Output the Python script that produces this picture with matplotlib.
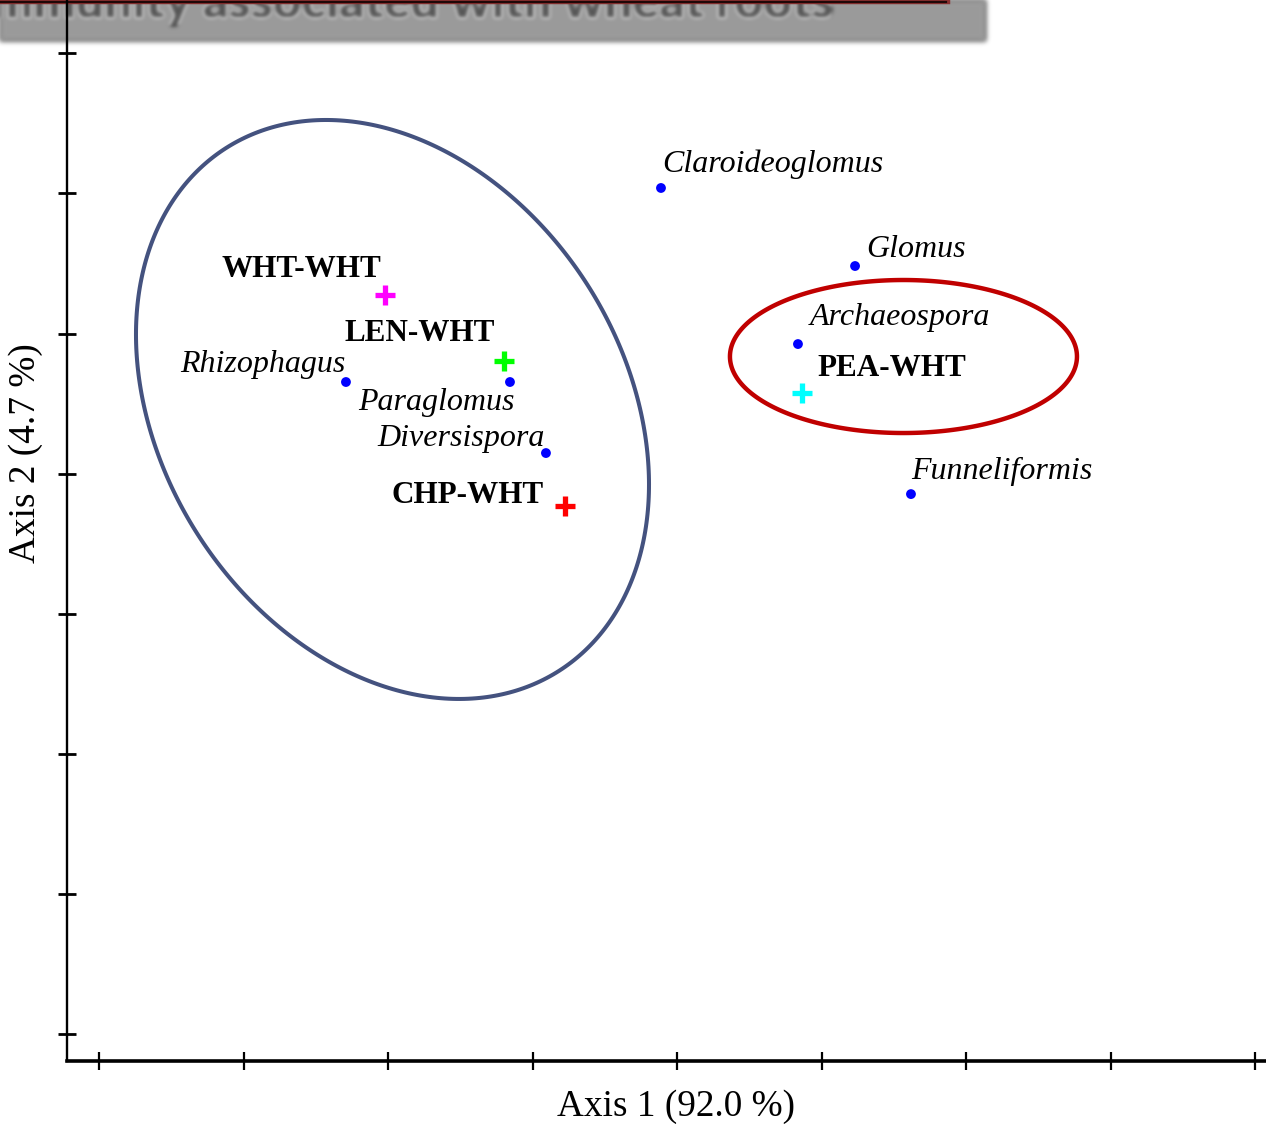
import numpy as np
import matplotlib
matplotlib.use("Agg")
import matplotlib.pyplot as plt
from matplotlib.patches import Rectangle, Polygon

# ---- data -----------------------------------------------------------------
genera = ["Claroideoglomus", "Glomus", "Archaeospora", "Funneliformis",
          "Rhizophagus", "Paraglomus", "Diversispora"]
genus_x = [3.889, 5.232, 4.837, 5.619, 1.709, 2.844, 3.093]
genus_y = [6.039, 5.482, 4.925, 3.854, 4.654, 4.654, 4.147]

treatments = ["WHT-WHT", "LEN-WHT", "CHP-WHT", "PEA-WHT"]
treat_x = [1.979, 2.803, 3.225, 4.865]
treat_y = [5.275, 4.804, 3.769, 4.575]
treat_colors = ["#ff00ff", "#00ff00", "#ff0000", "#00ffff"]

# grouping ellipses: centre and covariance (axis units)
group_center = [(2.031, 4.458), (5.567, 4.836)]
group_cov = [[[3.151, -0.951], [-0.951, 4.270]],
             [[1.4417, 0.0], [0.0, 0.2982]]]
group_colors = ["#44527f", "#c00000"]
group_lw = [2.9, 3.2]

x_ticks = list(range(0, 9))
y_ticks = list(range(0, 8))

xlabel = "Axis 1 (92.0 %)"
ylabel = "Axis 2 (4.7 %)"
banner_text = "community associated with wheat roots"

# label placement (pixel offsets from the point, alignment)
genus_label_pos = {
    "Claroideoglomus": (1, 24, "left"),
    "Glomus": (11, 17, "left"),
    "Archaeospora": (12, 27, "left"),
    "Funneliformis": (0, 23, "left"),
    "Rhizophagus": (0, 18, "right"),
    "Paraglomus": (5, -20, "right"),
    "Diversispora": (-1, 15, "right"),
}
treat_label_pos = {
    "WHT-WHT": (-4, 26, "right"),
    "LEN-WHT": (-9, 27, "right"),
    "CHP-WHT": (-21, 10, "right"),
    "PEA-WHT": (15, 25, "left"),
}


# ---- helpers ----------------------------------------------------------------
def gaussian_kernel(sigma):
    r = int(3 * sigma) + 1
    k = np.exp(-0.5 * (np.arange(-r, r + 1) / sigma) ** 2)
    return k / k.sum()


class GaussianBlur:
    def __init__(self, sigma):
        self.sigma = sigma

    def __call__(self, im, dpi):
        k = gaussian_kernel(self.sigma)
        pad = len(k)
        src = np.pad(im, [(pad, pad), (pad, pad), (0, 0)], "constant")
        out = np.apply_along_axis(lambda v: np.convolve(v, k, mode="same"), 0, src)
        out = np.apply_along_axis(lambda v: np.convolve(v, k, mode="same"), 1, out)
        return out, -pad, -pad


def ellipse_points(center, cov, n=400):
    vals, vecs = np.linalg.eigh(np.asarray(cov))
    t = np.linspace(0, 2 * np.pi, n, endpoint=False)
    circ = np.vstack([np.cos(t), np.sin(t)])
    pts = vecs @ np.diag(np.sqrt(vals)) @ circ
    return np.column_stack([center[0] + pts[0], center[1] + pts[1]])


# ---- figure -----------------------------------------------------------------
W, H = 1266, 1124
fig = plt.figure(figsize=(W / 100, H / 100), dpi=100)
fig.patch.set_facecolor("white")

# slide title bar peeking in at the top
bar = Rectangle((0, 1 - 41 / H), 986 / W, 41 / H + 0.01, transform=fig.transFigure,
                facecolor="#9b9b9b", edgecolor="none", zorder=-3)
bar.set_agg_filter(GaussianBlur(2.5))
fig.add_artist(bar)
title_txt = fig.text(834 / W, 1 - 18 / H, banner_text, transform=fig.transFigure,
                     ha="right", va="baseline", fontsize=35.7, fontweight="heavy",
                     family="Lato", color="#555555", zorder=-2)
title_txt.set_agg_filter(GaussianBlur(2.0))
fig.add_artist(plt.Line2D([0, 948 / W], [1 - 1.5 / H, 1 - 1.5 / H],
                          transform=fig.transFigure, color="#8a3030", lw=3.2, zorder=-1))
fig.add_artist(plt.Line2D([0, 946 / W], [1 - 1.5 / H, 1 - 1.5 / H],
                          transform=fig.transFigure, color="#200808", lw=1.6, zorder=-1))

ax = fig.add_axes([67 / W, 63 / H, (1290 - 67) / W, (1061 + 30) / H])
ax.patch.set_visible(False)

ax.set_xlim(-0.2215, 8.242)
ax.set_ylim(-0.1927, 7.595)

for c, cov, col, lw in zip(group_center, group_cov, group_colors, group_lw):
    ax.add_patch(Polygon(ellipse_points(c, cov), closed=True, fill=False,
                         edgecolor=col, lw=lw, joinstyle="round", zorder=2))

ax.scatter(genus_x, genus_y, s=50, color="#0000ff", edgecolors="none", zorder=4)
for name, x, y in zip(genera, genus_x, genus_y):
    dx, dy, ha = genus_label_pos[name]
    ax.annotate(name, (x, y), xytext=(dx, dy), textcoords="offset pixels",
                ha=ha, va="center", fontsize=23, style="italic",
                family="Liberation Serif", color="black", zorder=5)

for name, x, y, col in zip(treatments, treat_x, treat_y, treat_colors):
    ax.plot([x], [y], marker="+", markersize=14, mew=3.8, color=col,
            linestyle="none", zorder=4)
    dx, dy, ha = treat_label_pos[name]
    ax.annotate(name, (x, y), xytext=(dx, dy), textcoords="offset pixels",
                ha=ha, va="center", fontsize=22.4, fontweight="bold",
                family="Liberation Serif", color="black", zorder=5)

# axes styling
for s in ("top", "right"):
    ax.spines[s].set_visible(False)
ax.spines["left"].set_linewidth(1.7)
ax.spines["bottom"].set_linewidth(2.6)
ax.set_xticks(x_ticks)
ax.set_yticks(y_ticks)
ax.tick_params(axis="both", direction="inout", length=13.5, width=1.6,
               labelbottom=False, labelleft=False, color="black")
ax.tick_params(axis="y", width=2.0)

ax.set_xlabel(xlabel, family="Liberation Serif", fontsize=26.8)
ax.xaxis.set_label_coords((676 - 67) / 1223, -(1089 - 1061) / 1091)
ax.set_ylabel(ylabel, family="Liberation Serif", fontsize=26.8)
ax.yaxis.set_label_coords(-(67 - 43) / 1223, (1061 - 453) / 1091)

fig.savefig("out.png", dpi=100)
